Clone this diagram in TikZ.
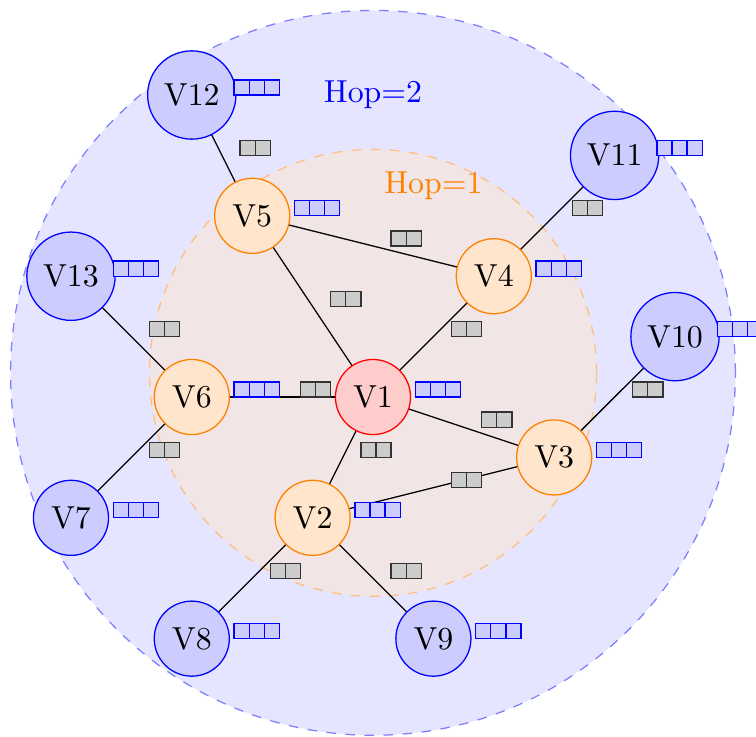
\documentclass[tikz,border=0pt]{standalone}
\usetikzlibrary{calc}
\tikzset{
	core/.style = {circle, draw = red, fill = red!20},
	hopone/.style = {circle, draw = orange, fill = orange!20},
	hoptwo/.style = {circle, draw = blue, fill = blue!20},
	qthree/.pic = {\draw[blue, fill = blue!20] (0,0) rectangle (0.5,0.1667) (0.1667,0) -- (0.1667,0.1667) (0.3333,0) -- (0.3333,0.1667);},
	qtwo/.pic = {\draw[black!80, fill = gray!40] (0,0) rectangle (0.3333,0.1667) (0.1667,0) -- (0.1667,0.1667);}
}
\begin{document}
\begin{tikzpicture}[xscale = 0.667, yscale = 0.667]
		\useasboundingbox (-6.175,-5.613) rectangle (6.341,6.573);
		% hop areas
		\draw [blue!50, dashed, fill = blue!10] (0,0.4) circle (6);
		\draw [orange!50, dashed, fill = orange!20, fill opacity = 0.5] (0,0.4) circle (3.7);
		\node [blue] (hoptwo) at (0,5) {Hop=2};
		\node [orange] (hopone) at (1,3.5) {Hop=1};
		% vertices
		\node [core] (v1) at (0,0) {V1};
		\node [hopone] (v2) at (-1,-2) {V2};
		\node [hopone] (v3) at (3,-1) {V3};
		\node [hopone] (v4) at (2,2) {V4};
		\node [hopone] (v5) at (-2,3) {V5};
		\node [hopone] (v6) at (-3,0) {V6};
		\node [hoptwo] (v7) at (-5,-2) {V7};
		\node [hoptwo] (v8) at (-3,-4) {V8};
		\node [hoptwo] (v9) at (1,-4) {V9};
		\node [hoptwo] (v10) at (5,1) {V10};
		\node [hoptwo] (v11) at (4,4) {V11};
		\node [hoptwo] (v12) at (-3,5) {V12};
		\node [hoptwo] (v13) at (-5,2) {V13};
		% links
		\foreach \a/\b in {v12/v5, v5/v4, v5/v1, v13/v6, v11/v4, v4/v1, v6/v1, v1/v3, v10/v3, v6/v7, v1/v2, v2/v3, v2/v8, v2/v9} {
			\draw (\a) -- (\b);
			\pic at ($(\a)!0.5!(\b) + (0.3,0)$) {qtwo};
		}
		\foreach \n in {1,...,13}
			\pic at ($(v\n) + (0.7,0)$) {qthree};
	\end{tikzpicture}
\end{document}
